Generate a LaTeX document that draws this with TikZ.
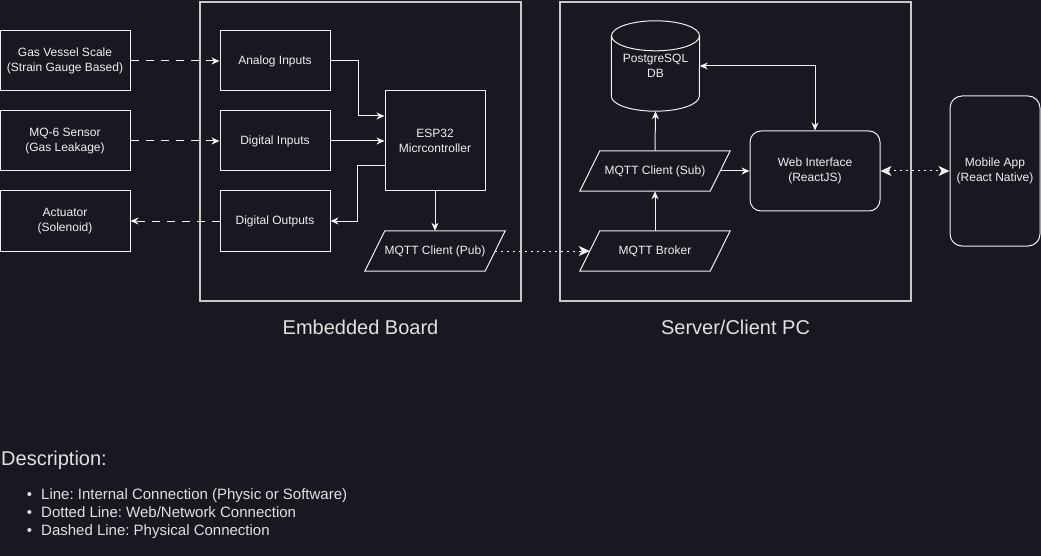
\documentclass[tikz,border=0pt]{standalone}
\usepackage{fontspec}
\setmainfont{Liberation Sans}
\usetikzlibrary{arrows.meta}
\frenchspacing

\definecolor{bg}{RGB}{25,23,31}
\definecolor{fg}{RGB}{240,240,240}
\definecolor{framegray}{RGB}{200,200,200}
\definecolor{labelgray}{RGB}{225,225,225}

\begin{document}
\begin{tikzpicture}[x=1pt,y=-1pt,
		font=\fontsize{12}{14.5}\selectfont, text=fg,
		box/.style={draw=fg, line width=1pt, minimum width=110pt, minimum height=60pt, inner sep=0pt, align=center},
		sensor/.style={box, minimum width=130pt},
		para/.style={minimum width=140pt, minimum height=40pt, inner sep=0pt},
		frame/.style={draw=framegray, line width=2pt},
		title/.style={font=\fontsize{20}{24}\selectfont, text=labelgray},
		wire/.style={draw=fg, line width=1pt, >={Stealth[length=8pt,width=7pt,inset=2.5pt]}, ->},
		phys/.style={wire, dash pattern=on 8pt off 7pt},
		net/.style={wire, dash pattern=on 2pt off 4pt, >={Stealth[length=11pt,width=10pt,inset=3pt]}}]
			% Hintergrund
			\useasboundingbox (0,0) rectangle (1041,556);
			\fill[bg] (0,0) rectangle (1041,556);
			
			% Rahmen zeichnen
			\draw[frame] (200,2) rectangle (521,301);
			\draw[frame] (560,2) rectangle (911,301);
			\node[title, anchor=base] (board-Label) at (360.5,334) {Embedded Board};
			\node[title, anchor=base] (server-Label) at (735.5,334) {Server/Client PC};
			
			% Sensoren und Aktor
			\node[sensor] (gas) at (65,61) {Gas Vessel Scale\\(Strain Gauge Based)};
			\node[sensor] (mq) at (65,141) {MQ-6 Sensor\\(Gas Leakage)};
			\node[sensor] (act) at (65,221) {Actuator\\(Solenoid)};
			
			% Embedded Board
			\node[box] (ana) at (275,61) {Analog Inputs};
			\node[box] (din) at (275,141) {Digital Inputs};
			\node[box] (dout) at (275,221) {Digital Outputs};
			\node[box, minimum width=100pt, minimum height=100pt] (esp) at (435,141) {ESP32\\Micrcontroller};
			\node[para] (pub) at (435,251) {MQTT Client (Pub)};
			
			% Server/Client PC
			\node[para, minimum width=150pt] (sub) at (655,171) {MQTT Client (Sub)};
			\node[para, minimum width=150pt] (broker) at (655,251) {MQTT Broker};
			\node[minimum width=88pt, minimum height=90pt, inner sep=0pt, align=center] (db) at (655.5,66) {PostgreSQL\\DB};
			\node[box, rounded corners=11pt, minimum width=130pt, minimum height=80pt] (web) at (815,171) {Web Interface\\(ReactJS)};
			\node[box, rounded corners=12pt, minimum width=90pt, minimum height=150pt] (app) at (995,171) {Mobile App\\(React Native)};
			
			% Parallelogramme
			\foreach \p in {pub,sub,broker}
				\draw[fg, line width=1pt] ([xshift=20pt]\p.north west) -- (\p.north east) -- ([xshift=-20pt]\p.south east) -- (\p.south west) -- cycle;
			
			% Datenbank-Zylinder
			\draw[fg, line width=1pt] ([yshift=-15pt]db.north) ellipse [x radius=44pt, y radius=15pt];
			\draw[fg, line width=1pt] ([yshift=-15pt]db.north west) -- ([yshift=15pt]db.south west)
				arc [start angle=180, end angle=360, x radius=44pt, y radius=15pt] -- ([yshift=-15pt]db.north east);
			
			% Physische Verbindungen
			\draw[phys] (gas.east) -- (ana.west);
			\draw[phys] (mq.east) -- (din.west);
			\draw[phys] (dout.west) -- (act.east);
			
			% Interne Verbindungen
			\draw[wire] (ana.east) -- ++(27.5,0) |- ([yshift=25pt]esp.west);
			\draw[wire] (din.east) -- (esp.west);
			\draw[wire] ([yshift=-25pt]esp.west) -- ++(-27.5,0) |- (dout.east);
			\draw[wire] (esp.south) -- (pub.north);
			\draw[wire] (broker.north) -- (sub.south);
			\draw[wire] (sub.north) -- (db.south);
			\draw[wire] ([xshift=-10pt]sub.east) -- (web.west);
			\draw[wire, <->] (db.east) -| (web.north);
			
			% Netzwerkverbindungen
			\draw[net] ([xshift=-10pt]pub.east) -- ([xshift=10pt]broker.west);
			\draw[net, <->] (web.east) -- (app.west);
			
			% Legende
			\node[anchor=base west, title, inner sep=0pt] (desc) at (1,465) {Description:};
			\foreach \txt [count=\i] in {{Line: Internal Connection (Physic or Software)},
					{Dotted Line: Web/Network Connection},
					{Dashed Line: Physical Connection}}
				\node[anchor=base west, inner sep=0pt, font=\fontsize{15}{18}\selectfont, text=labelgray] (item-\i) at (41,481.5+18*\i) {\llap{\textbullet\hspace{9pt}}\txt};
	\end{tikzpicture}
\end{document}
